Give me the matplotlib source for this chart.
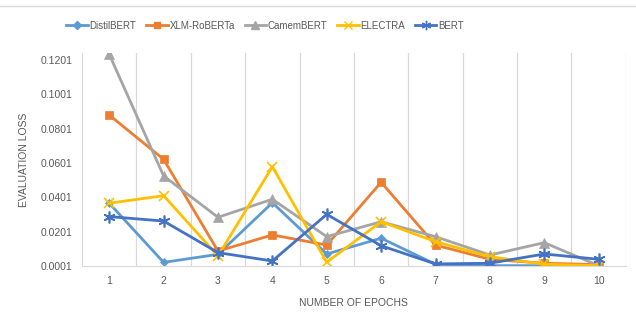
import matplotlib.pyplot as plt
import matplotlib.lines as mlines

plt.rcParams['font.family'] = ['Liberation Sans', 'DejaVu Sans']

epochs = [1, 2, 3, 4, 5, 6, 7, 8, 9, 10]
distilbert = [0.0367, 0.0022, 0.0069, 0.0370, 0.0071, 0.0163, 0.0011, 0.0003, 0.0003, 0.0002]
xlm_roberta = [0.0881, 0.0623, 0.0088, 0.0182, 0.0123, 0.0489, 0.0123, 0.0040, 0.0017, 0.0009]
camembert = [0.1235, 0.0526, 0.0285, 0.0390, 0.0172, 0.0259, 0.0172, 0.0065, 0.0137, 0.0003]
electra = [0.0367, 0.0411, 0.0059, 0.0580, 0.0023, 0.0259, 0.0143, 0.0055, 0.0011, 0.0003]
bert = [0.0289, 0.0263, 0.0079, 0.0030, 0.0302, 0.0119, 0.0013, 0.0017, 0.0071, 0.0040]
yticks = [0.0001, 0.0201, 0.0401, 0.0601, 0.0801, 0.1001, 0.1201]

series = [
    ('DistilBERT', distilbert, '#5B9BD5', 'D', 4.5),
    ('XLM-RoBERTa', xlm_roberta, '#ED7D31', 's', 6),
    ('CamemBERT', camembert, '#A5A5A5', '^', 6.5),
    ('ELECTRA', electra, '#FFC000', 'x', 7.5),
    ('BERT', bert, '#4472C4', (6, 2, 0), 8.5),
]

fig = plt.figure(figsize=(6.36, 3.23), dpi=100)
ax = fig.add_axes([0.129, 0.1765, 0.855, 0.6585])

for name, vals, col, mk, ms in series:
    ax.plot(epochs, vals, color=col, linewidth=2, marker=mk, markersize=ms,
            markeredgewidth=1.2 if mk in ('x', (6, 2, 0)) else 0.5,
            markeredgecolor=col, label=name)

ax.set_xlim(0.5, 10.5)
ax.set_ylim(0.0001, 0.1241)
ax.set_yticks(yticks)
ax.set_yticklabels([f'{v:.4f}' for v in yticks])
ax.set_xticks(epochs)
for b in range(11):
    ax.axvline(b + 0.5, color='#D9D9D9', linewidth=0.9, zorder=0)

for s in ['top', 'right', 'left']:
    ax.spines[s].set_visible(False)
ax.spines['bottom'].set_color('#D9D9D9')
ax.tick_params(length=0, labelsize=7.5, colors='#595959', pad=7)
ax.set_ylabel('EVALUATION LOSS', fontsize=7.5, color='#595959', labelpad=8)
ax.set_xlabel('NUMBER OF EPOCHS', fontsize=7.5, color='#595959', labelpad=9)

handles = [mlines.Line2D([], [], color=c, linewidth=2, marker=m,
                         markersize=ms * 0.8, markeredgewidth=1.0, label=n)
           for n, v, c, m, ms in series]
fig.legend(handles=handles, loc='center', bbox_to_anchor=(0.417, 0.92), ncol=5,
           frameon=False, fontsize=7, labelcolor='#595959', handlelength=2.2,
           handletextpad=0.2, columnspacing=1.0)

fig.add_artist(mlines.Line2D([0, 1], [0.981, 0.981], color='#D9D9D9',
                             linewidth=1, transform=fig.transFigure))

fig.savefig('out.png', dpi=100)
